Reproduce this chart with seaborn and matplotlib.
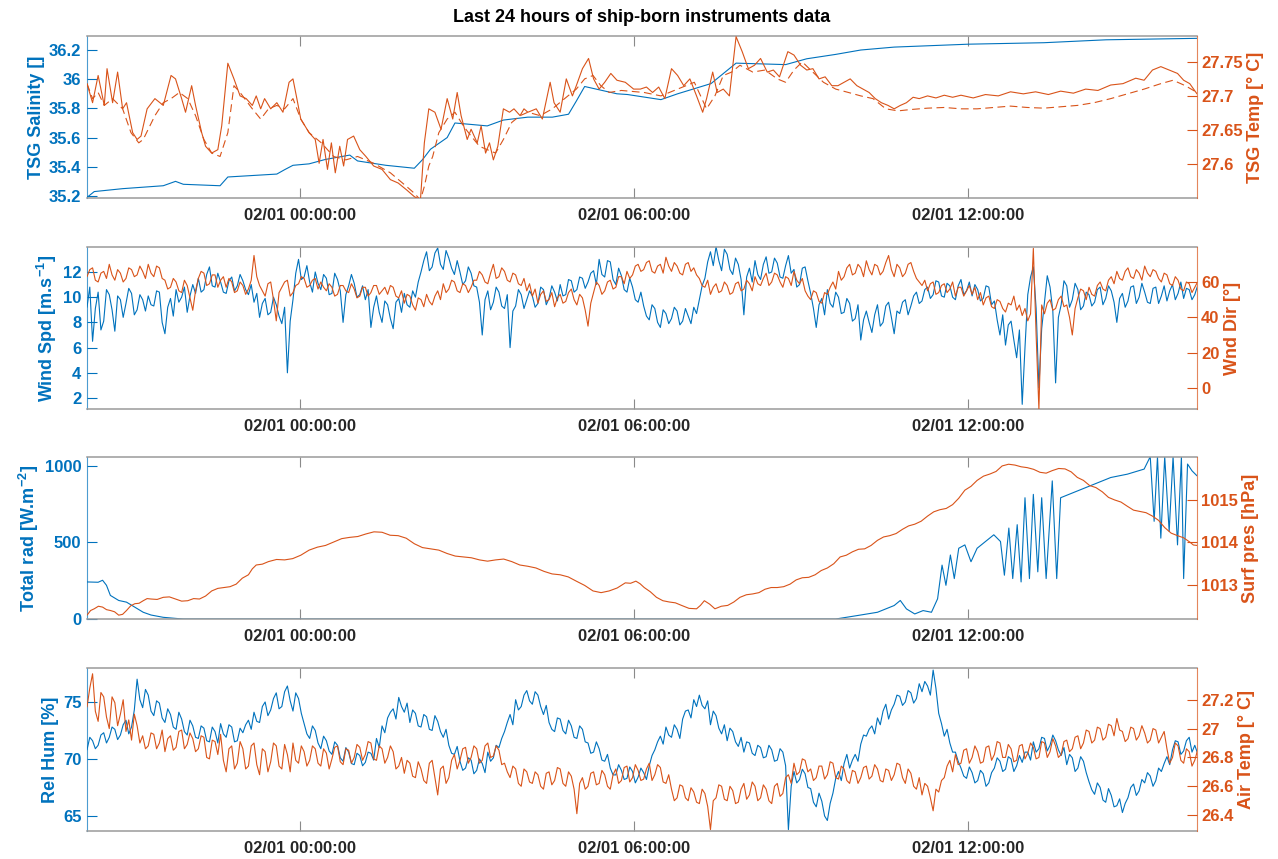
import numpy as np
import matplotlib
matplotlib.use("Agg")
import matplotlib.pyplot as plt
import seaborn as sns

sns.set_theme(style="white")
plt.rcParams["font.family"] = ["Liberation Sans", "DejaVu Sans"]
plt.rcParams["mathtext.fontset"] = "custom"
plt.rcParams["mathtext.rm"] = "Liberation Sans:bold"
plt.rcParams["mathtext.it"] = "Liberation Sans:bold"
plt.rcParams["mathtext.bf"] = "Liberation Sans:bold"
plt.rcParams["mathtext.default"] = "rm"

BLUE = "#0072BD"
ORANGE = "#D95319"

# ---------------- data (hours relative to 02/01 00:00:00) ----------------
x_range = (-3.83, 16.11)
xtick_hours = [0, 6, 12]
xtick_labels = ["02/01 00:00:00", "02/01 06:00:00", "02/01 12:00:00"]

# Panel 1 : TSG salinity (left) and TSG temperature (right, solid + dashed)
sal_hours = [-3.83, -3.70, -3.19, -2.46, -2.24, -2.10, -1.44, -1.30, -0.42, -0.28,
             -0.13, 0.16, 0.45, 0.89, 1.03, 1.54, 2.05, 2.20, 2.34, 2.64,
             2.78, 3.36, 3.65, 4.09, 4.53, 4.82, 4.96, 5.11, 5.69, 5.88,
             6.48, 6.78, 7.38, 7.83, 8.72, 9.10, 9.62, 10.07, 10.67, 12.01,
             13.36, 14.48, 16.11]
sal_values = [35.19, 35.23, 35.25, 35.27, 35.30, 35.28, 35.27, 35.33, 35.35, 35.38,
              35.41, 35.42, 35.45, 35.48, 35.44, 35.41, 35.39, 35.45, 35.52, 35.60,
              35.70, 35.68, 35.72, 35.74, 35.74, 35.76, 35.85, 35.95, 35.90, 35.895,
              35.86, 35.90, 35.97, 36.11, 36.10, 36.14, 36.17, 36.20, 36.22, 36.24,
              36.25, 36.27, 36.28]

tsg_hours = [-3.83, -3.73, -3.63, -3.52, -3.47, -3.37, -3.28, -3.19, -3.12, -3.01,
             -2.93, -2.86, -2.75, -2.61, -2.46, -2.32, -2.24, -2.13, -2.06, -1.95,
             -1.88, -1.77, -1.70, -1.59, -1.48, -1.41, -1.30, -1.19, -1.08, -0.97,
             -0.86, -0.79, -0.71, -0.64, -0.53, -0.42, -0.31, -0.20, -0.13, -0.06,
             0.01, 0.16, 0.27, 0.34, 0.41, 0.49, 0.56, 0.63, 0.71, 0.78,
             0.85, 0.96, 1.07, 1.18, 1.32, 1.47, 1.62, 1.76, 1.91, 2.05,
             2.16, 2.23, 2.31, 2.42, 2.53, 2.64, 2.74, 2.82, 2.89, 3.00,
             3.07, 3.18, 3.25, 3.33, 3.40, 3.47, 3.55, 3.65, 3.76, 3.84,
             3.95, 4.02, 4.09, 4.24, 4.35, 4.49, 4.56, 4.67, 4.78, 4.89,
             4.96, 5.07, 5.18, 5.27, 5.37, 5.47, 5.58, 5.69, 5.84, 5.99,
             6.11, 6.22, 6.33, 6.44, 6.55, 6.67, 6.78, 6.89, 7.00, 7.12,
             7.23, 7.30, 7.41, 7.49, 7.60, 7.71, 7.83, 7.94, 8.05, 8.16,
             8.27, 8.39, 8.50, 8.61, 8.76, 8.87, 8.99, 9.10, 9.21, 9.32,
             9.43, 9.55, 9.66, 9.77, 9.88, 10.00, 10.11, 10.22, 10.33, 10.44,
             10.56, 10.67, 10.78, 10.89, 11.01, 11.12, 11.27, 11.42, 11.57, 11.72,
             11.87, 12.09, 12.31, 12.54, 12.76, 12.99, 13.21, 13.44, 13.66, 13.89,
             14.11, 14.33, 14.56, 14.78, 15.01, 15.16, 15.31, 15.46, 15.61, 15.76,
             15.87, 15.98, 16.11]
tsg_values = [27.718, 27.690, 27.730, 27.686, 27.740, 27.690, 27.735, 27.681, 27.690, 27.646,
              27.636, 27.641, 27.681, 27.696, 27.686, 27.730, 27.725, 27.696, 27.676, 27.715,
              27.686, 27.646, 27.626, 27.616, 27.621, 27.656, 27.748, 27.725, 27.700, 27.696,
              27.686, 27.700, 27.681, 27.696, 27.681, 27.690, 27.676, 27.720, 27.725, 27.696,
              27.666, 27.646, 27.636, 27.601, 27.636, 27.592, 27.631, 27.587, 27.626, 27.597,
              27.636, 27.641, 27.621, 27.611, 27.597, 27.592, 27.577, 27.572, 27.562, 27.552,
              27.547, 27.631, 27.681, 27.676, 27.651, 27.696, 27.666, 27.705, 27.671, 27.636,
              27.651, 27.631, 27.656, 27.616, 27.631, 27.606, 27.626, 27.681, 27.676, 27.681,
              27.671, 27.681, 27.676, 27.681, 27.666, 27.720, 27.690, 27.676, 27.725, 27.700,
              27.715, 27.740, 27.755, 27.725, 27.710, 27.720, 27.733, 27.723, 27.720, 27.710,
              27.710, 27.713, 27.705, 27.713, 27.696, 27.740, 27.730, 27.715, 27.725, 27.700,
              27.676, 27.696, 27.735, 27.705, 27.710, 27.700, 27.787, 27.765, 27.740, 27.745,
              27.755, 27.735, 27.738, 27.728, 27.765, 27.760, 27.745, 27.738, 27.740, 27.725,
              27.728, 27.715, 27.715, 27.720, 27.725, 27.715, 27.710, 27.705, 27.696, 27.690,
              27.686, 27.681, 27.686, 27.690, 27.698, 27.696, 27.700, 27.697, 27.701, 27.698,
              27.701, 27.697, 27.702, 27.700, 27.706, 27.703, 27.706, 27.702, 27.707, 27.704,
              27.710, 27.708, 27.716, 27.718, 27.726, 27.723, 27.738, 27.743, 27.738, 27.733,
              27.723, 27.718, 27.703]

tsg2_hours = [-3.83, -3.73, -3.63, -3.52, -3.37, -3.19, -3.04, -2.90, -2.82, -2.61,
              -2.46, -2.32, -2.17, -2.02, -1.88, -1.73, -1.59, -1.44, -1.30, -1.19,
              -1.08, -0.86, -0.71, -0.57, -0.42, -0.28, -0.13, 0.01, 0.16, 0.38,
              0.60, 0.82, 1.03, 1.32, 1.62, 1.91, 2.05, 2.16, 2.23, 2.31,
              2.38, 2.49, 2.64, 2.78, 2.93, 3.07, 3.22, 3.36, 3.51, 3.65,
              3.80, 3.95, 4.09, 4.31, 4.53, 4.75, 4.96, 5.11, 5.26, 5.40,
              5.55, 5.77, 6.18, 6.48, 6.78, 7.08, 7.30, 7.45, 7.60, 7.75,
              7.90, 8.13, 8.35, 8.57, 8.72, 8.87, 9.02, 9.17, 9.40, 9.62,
              9.85, 10.07, 10.29, 10.52, 10.74, 10.97, 11.27, 11.57, 11.87, 12.16,
              12.46, 12.76, 13.06, 13.36, 13.66, 13.96, 14.26, 14.56, 14.86, 15.16,
              15.46, 15.68, 15.90, 16.11]
tsg2_values = [27.718, 27.696, 27.705, 27.686, 27.696, 27.681, 27.646, 27.631, 27.636, 27.671,
               27.690, 27.696, 27.705, 27.696, 27.671, 27.636, 27.616, 27.611, 27.646, 27.715,
               27.705, 27.681, 27.666, 27.681, 27.686, 27.681, 27.696, 27.666, 27.646, 27.631,
               27.611, 27.606, 27.611, 27.601, 27.587, 27.567, 27.557, 27.547, 27.567, 27.597,
               27.611, 27.646, 27.666, 27.676, 27.656, 27.641, 27.626, 27.621, 27.616, 27.636,
               27.661, 27.671, 27.676, 27.671, 27.681, 27.696, 27.710, 27.725, 27.730, 27.715,
               27.705, 27.708, 27.705, 27.700, 27.710, 27.720, 27.681, 27.700, 27.730, 27.735,
               27.745, 27.735, 27.738, 27.725, 27.720, 27.738, 27.750, 27.738, 27.720, 27.710,
               27.705, 27.700, 27.696, 27.681, 27.678, 27.680, 27.682, 27.683, 27.681, 27.681,
               27.683, 27.685, 27.683, 27.682, 27.684, 27.686, 27.690, 27.696, 27.703, 27.710,
               27.718, 27.723, 27.715, 27.705]

# Noisy meteorological series: samples every 6 min ("main") plus the samples
# read in between them ("mid"), starting at grid_start hours.
grid_start = -3.83
grid_step = 0.1

wind_spd_main = [9.2, 6.5, 10.4, 8.1, 10.2, 7.3, 9.8, 9.5, 10.3, 9.0,
                 9.8, 10.1, 9.3, 10.4, 7.1, 9.9, 10.6, 10.0, 8.8, 11.0,
                 11.5, 10.6, 12.4, 10.8, 11.2, 10.3, 11.6, 10.9, 11.3, 10.2,
                 9.6, 8.4, 9.9, 8.8, 9.4, 7.9, 4.0, 9.8, 13.0, 11.6,
                 11.2, 12.0, 10.6, 11.5, 10.3, 11.4, 8.0, 10.9, 11.1, 10.2,
                 9.8, 7.6, 10.1, 8.0, 9.4, 7.5, 9.9, 10.3, 9.2, 10.0,
                 12.0, 13.6, 12.4, 13.9, 12.2, 13.1, 11.8, 12.0, 11.3, 11.9,
                 10.8, 7.0, 10.5, 9.6, 10.4, 9.1, 6.0, 9.3, 10.2, 9.8,
                 10.1, 9.5, 10.6, 9.9, 10.4, 11.0, 10.2, 11.3, 10.6, 11.5,
                 11.2, 12.1, 13.0, 11.6, 12.8, 11.0, 11.7, 10.4, 10.8, 9.6,
                 9.3, 8.2, 9.1, 7.6, 8.7, 8.3, 8.9, 8.1, 8.5, 9.2,
                 9.8, 11.5, 13.6, 14.0, 12.1, 13.4, 11.8, 12.6, 8.6, 12.3,
                 12.9, 11.4, 13.2, 12.0, 12.7, 11.5, 13.3, 12.2, 11.0, 12.4,
                 10.3, 7.6, 9.9, 10.6, 9.2, 10.0, 8.8, 9.5, 8.3, 6.6,
                 8.9, 7.2, 9.4, 8.0, 9.6, 7.1, 8.7, 9.8, 9.3, 10.4,
                 9.7, 10.8, 10.2, 11.2, 10.0, 10.9, 9.8, 11.4, 10.5, 10.1,
                 10.6, 9.9, 10.8, 9.7, 7.0, 6.2, 8.1, 5.2, 1.5, 10.2,
                 12.4, 2.8, 9.6, 10.8, 3.2, 9.4, 10.9, 9.8, 10.6, 9.3,
                 10.2, 9.6, 10.8, 9.9, 10.5, 8.0, 10.3, 9.7, 10.9, 10.0,
                 10.4, 9.5, 10.8, 10.1, 9.7, 11.0, 10.3, 9.9, 10.6, 10.2]
wind_spd_mid = [10.8, 9.1, 7.4, 10.6, 9.0, 10.1, 8.4, 10.7, 8.6, 10.2,
                8.9, 9.4, 10.5, 8.0, 9.2, 8.5, 9.6, 10.8, 10.1, 10.3,
                10.4, 11.8, 10.9, 11.9, 10.4, 11.3, 10.5, 11.8, 10.6, 11.0,
                10.3, 9.5, 8.6, 10.0, 8.5, 9.2, 8.1, 11.9, 11.4, 12.5,
                10.4, 11.1, 11.8, 10.2, 11.9, 10.5, 10.2, 11.8, 10.0, 10.9,
                10.6, 9.2, 8.8, 9.7, 8.3, 9.6, 8.8, 9.4, 10.5, 11.2,
                12.9, 12.1, 13.5, 12.6, 13.7, 12.3, 12.9, 11.0, 12.4, 10.9,
                9.6, 9.8, 9.0, 10.8, 9.3, 10.2, 8.9, 10.6, 9.1, 10.5,
                9.2, 10.8, 9.4, 10.9, 9.7, 10.1, 11.4, 10.4, 11.6, 10.7,
                11.9, 11.0, 11.8, 12.9, 11.4, 12.3, 10.6, 11.5, 9.8, 10.4,
                8.5, 9.4, 8.0, 9.0, 7.9, 9.2, 7.8, 9.1, 7.9, 8.7,
                10.9, 12.8, 12.5, 12.9, 13.8, 12.2, 13.1, 11.4, 11.6, 11.2,
                11.8, 12.6, 11.9, 13.1, 11.6, 12.5, 11.9, 10.8, 12.3, 11.3,
                9.1, 9.4, 8.6, 9.5, 10.4, 8.7, 9.9, 8.1, 9.4, 8.2,
                8.0, 8.6, 7.7, 9.3, 8.4, 8.9, 9.6, 8.6, 10.1, 9.5,
                10.6, 9.9, 11.3, 10.1, 11.1, 10.0, 10.9, 10.2, 11.2, 11.0,
                9.7, 10.9, 9.4, 8.2, 8.6, 7.8, 6.6, 7.4, 6.0, 11.6,
                9.1, 7.5, 11.7, 8.9, 8.4, 11.3, 9.2, 11.1, 9.0, 10.4,
                9.3, 10.6, 9.4, 10.9, 9.6, 9.9, 9.2, 10.8, 9.5, 11.1,
                9.6, 10.7, 9.5, 10.9, 10.5, 9.8, 11.2, 10.7, 9.8, 10.9]

wind_dir_main = [63, 68, 60, 66, 70, 61, 65, 62, 67, 64,
                 66, 70, 63, 68, 61, 57, 60, 54, 58, 44,
                 62, 65, 59, 64, 61, 57, 60, 55, 58, 56,
                 75, 58, 52, 60, 38, 57, 61, 54, 59, 62,
                 58, 62, 60, 55, 57, 53, 58, 54, 56, 52,
                 57, 54, 58, 55, 53, 57, 51, 48, 52, 44,
                 50, 53, 47, 55, 59, 56, 60, 54, 58, 57,
                 61, 64, 59, 70, 63, 66, 60, 64, 58, 55,
                 52, 48, 55, 50, 46, 53, 49, 56, 47, 51,
                 35, 54, 58, 55, 61, 57, 63, 66, 64, 70,
                 67, 72, 65, 70, 74, 66, 69, 64, 71, 68,
                 62, 57, 53, 59, 55, 58, 54, 60, 56, 59,
                 63, 58, 65, 60, 64, 57, 62, 66, 59, 55,
                 50, 54, 48, 53, 60, 66, 63, 70, 65, 68,
                 72, 64, 69, 66, 75, 63, 68, 65, 71, 62,
                 58, 55, 60, 54, 59, 56, 52, 57, 55, 53,
                 50, 47, 52, 45, 49, 43, 47, 44, 41, 38,
                 79, -12, 42, 50, 45, 52, 47, 30, 51, 55,
                 57, 52, 60, 55, 63, 66, 61, 68, 62, 65,
                 69, 63, 66, 60, 64, 58, 61, 55, 59, 57]
wind_dir_mid = [67, 61, 65, 62, 64, 67, 60, 68, 63, 69,
                62, 65, 69, 62, 56, 62, 55, 61, 51, 55,
                66, 58, 64, 57, 63, 62, 54, 60, 53, 61,
                63, 55, 59, 50, 54, 60, 52, 58, 63, 57,
                61, 56, 57, 59, 52, 58, 55, 59, 51, 57,
                52, 58, 53, 57, 58, 52, 55, 53, 47, 51,
                46, 49, 52, 50, 54, 61, 55, 59, 54, 61,
                66, 60, 65, 62, 68, 61, 65, 59, 62, 59,
                56, 53, 49, 54, 51, 48, 54, 50, 53, 44,
                48, 60, 53, 60, 56, 63, 59, 62, 69, 66,
                71, 66, 69, 65, 69, 71, 65, 70, 66, 64,
                58, 61, 57, 54, 60, 53, 59, 55, 61, 55,
                59, 62, 58, 65, 60, 63, 58, 61, 62, 52,
                55, 49, 54, 57, 56, 61, 68, 64, 70, 63,
                67, 70, 64, 71, 67, 70, 63, 70, 66, 60,
                61, 59, 53, 58, 54, 60, 57, 52, 58, 57,
                54, 51, 46, 50, 45, 48, 52, 47, 45, 42,
                30, 47, 48, 44, 50, 46, 40, 45, 56, 50,
                53, 58, 56, 61, 59, 62, 66, 63, 67, 61,
                65, 67, 62, 65, 59, 63, 56, 60, 54, 60]

# Panel 3 : total radiation (left) and surface pressure (right)
rad_hours = [-3.83, -3.63, -3.55, -3.48, -3.41, -3.26, -3.12, -2.97, -2.82, -2.68,
             -2.46, -2.24, -2.10, 9.62, 10.00, 10.37, 10.67, 10.78, 10.89, 11.04,
             11.19, 11.34, 11.45, 11.53, 11.60, 11.68, 11.75, 11.83, 11.94, 12.05,
             12.16, 12.31, 12.46, 12.58, 12.65, 12.73, 12.80, 12.88, 12.95, 13.02,
             13.10, 13.17, 13.25, 13.32, 13.40, 13.51, 13.59, 13.66, 13.96, 14.26,
             14.56, 14.86, 15.16, 15.27, 15.34, 15.40, 15.46, 15.53, 15.61, 15.68,
             15.76, 15.83, 15.87, 15.94, 16.02, 16.11]
rad_values = [242, 240, 253, 220, 154, 121, 110, 77, 44, 26,
              11, 4, 0, 0, 22, 44, 88, 121, 66, 33,
              55, 44, 132, 352, 220, 418, 264, 462, 484, 374,
              462, 506, 550, 506, 286, 594, 264, 616, 242, 792,
              264, 814, 308, 792, 264, 902, 264, 792, 836, 880,
              924, 946, 979, 1060, 638, 1060, 528, 1060, 572, 1060,
              484, 1060, 264, 1012, 968, 935]

pres_hours = [-3.83, -3.70, -3.55, -3.41, -3.26, -3.12, -2.97, -2.82, -2.68, -2.46,
              -2.24, -2.02, -1.81, -1.59, -1.37, -1.15, -0.93, -0.79, -0.57, -0.28,
              0.01, 0.31, 0.60, 0.89, 1.18, 1.47, 1.76, 2.05, 2.34, 2.64,
              2.93, 3.22, 3.51, 3.80, 4.09, 4.38, 4.67, 4.96, 5.26, 5.55,
              5.84, 6.03, 6.18, 6.40, 6.63, 6.85, 7.12, 7.26, 7.45, 7.68,
              7.90, 8.13, 8.35, 8.57, 8.80, 9.02, 9.25, 9.47, 9.70, 9.92,
              10.14, 10.37, 10.59, 10.82, 11.04, 11.27, 11.49, 11.72, 11.94, 12.16,
              12.39, 12.61, 12.84, 13.06, 13.29, 13.51, 13.74, 13.96, 14.18, 14.41,
              14.63, 14.86, 15.08, 15.31, 15.53, 15.76, 15.98, 16.11]
pres_values = [1012.29, 1012.44, 1012.48, 1012.40, 1012.29, 1012.40, 1012.56, 1012.63, 1012.67, 1012.71,
               1012.67, 1012.63, 1012.67, 1012.86, 1012.94, 1013.02, 1013.24, 1013.47, 1013.55, 1013.59,
               1013.70, 1013.89, 1014.01, 1014.12, 1014.20, 1014.24, 1014.16, 1013.97, 1013.85, 1013.74,
               1013.66, 1013.59, 1013.59, 1013.55, 1013.44, 1013.32, 1013.24, 1013.09, 1012.86, 1012.86,
               1013.05, 1013.09, 1012.94, 1012.71, 1012.60, 1012.52, 1012.44, 1012.63, 1012.44, 1012.52,
               1012.71, 1012.79, 1012.90, 1012.94, 1013.02, 1013.17, 1013.24, 1013.40, 1013.66, 1013.78,
               1013.85, 1014.05, 1014.16, 1014.31, 1014.43, 1014.62, 1014.77, 1014.89, 1015.23, 1015.46,
               1015.61, 1015.80, 1015.82, 1015.76, 1015.65, 1015.69, 1015.73, 1015.53, 1015.34, 1015.19,
               1015.00, 1014.85, 1014.73, 1014.62, 1014.35, 1014.16, 1014.01, 1013.93]
# readings taken half-way between the pressure samples above (small jitter)
pres_mid = [1012.40, 1012.50, 1012.42, 1012.37, 1012.31, 1012.51, 1012.57, 1012.68, 1012.66, 1012.72,
            1012.62, 1012.68, 1012.74, 1012.92, 1012.96, 1013.16, 1013.38, 1013.49, 1013.60, 1013.62,
            1013.82, 1013.93, 1014.09, 1014.14, 1014.25, 1014.17, 1014.10, 1013.88, 1013.82, 1013.68,
            1013.64, 1013.56, 1013.61, 1013.47, 1013.40, 1013.26, 1013.19, 1012.99, 1012.82, 1012.93,
            1013.04, 1013.03, 1012.84, 1012.63, 1012.58, 1012.45, 1012.52, 1012.55, 1012.50, 1012.60,
            1012.77, 1012.82, 1012.94, 1012.96, 1013.12, 1013.18, 1013.34, 1013.50, 1013.70, 1013.84,
            1013.93, 1014.13, 1014.21, 1014.39, 1014.50, 1014.72, 1014.80, 1015.04, 1015.32, 1015.56,
            1015.67, 1015.84, 1015.78, 1015.72, 1015.63, 1015.74, 1015.66, 1015.46, 1015.29, 1015.06,
            1014.95, 1014.76, 1014.70, 1014.52, 1014.22, 1014.11, 1013.94]

# Panel 4 : relative humidity (left) and air temperature (right)
rel_hum_main = [70.8, 71.6, 71.2, 72.3, 71.9, 72.6, 72.1, 73.4, 72.8, 77.0,
                74.5, 75.6, 73.8, 74.9, 73.2, 73.9, 72.6, 73.5, 72.1, 72.9,
                71.8, 72.7, 71.5, 72.4, 73.1, 71.9, 72.8, 71.6, 72.3, 73.4,
                74.1, 73.2, 75.0, 74.3, 75.8, 74.6, 76.4, 74.2, 75.3, 73.1,
                71.8, 72.5, 70.9, 71.6, 70.4, 71.2, 69.8, 70.6, 69.5, 70.3,
                69.7, 70.5, 71.8, 72.9, 73.6, 74.4, 75.4, 74.1, 73.2, 74.0,
                72.8, 73.7, 72.5, 73.3, 71.9, 71.2, 70.4, 69.8, 69.2, 69.9,
                69.0, 69.6, 70.6, 70.1, 71.0, 72.4, 73.9, 75.2, 74.6, 76.0,
                74.8, 75.6, 73.9, 73.2, 72.4, 73.5, 72.2, 72.9, 71.8, 72.6,
                71.4, 70.6, 70.9, 69.8, 69.2, 68.6, 69.0, 68.3, 68.9, 68.4,
                68.8, 69.4, 70.8, 72.0, 72.8, 71.9, 72.6, 73.5, 74.3, 75.2,
                75.6, 74.4, 73.0, 73.8, 72.2, 71.6, 72.4, 71.1, 70.6, 71.4,
                70.3, 71.0, 70.2, 70.8, 69.9, 70.6, 63.8, 68.9, 68.2, 68.7,
                67.4, 65.8, 66.3, 64.6, 67.0, 68.9, 69.6, 69.2, 70.4, 71.3,
                72.0, 72.9, 73.6, 74.2, 73.5, 74.8, 75.5, 75.0, 75.8, 75.3,
                75.9, 76.4, 77.8, 74.0, 72.0, 71.4, 70.6, 69.2, 68.3, 68.8,
                68.1, 68.7, 67.9, 69.2, 69.8, 69.1, 70.0, 69.4, 69.7, 70.6,
                71.5, 70.9, 71.8, 71.2, 71.6, 70.3, 69.5, 70.1, 69.2, 69.8,
                68.0, 66.9, 67.5, 66.2, 66.8, 65.9, 65.3, 66.6, 67.8, 67.2,
                67.9, 68.5, 68.1, 68.9, 70.2, 70.8, 71.5, 70.7, 71.9, 71.2]
rel_hum_mid = [71.9, 70.9, 72.1, 71.4, 72.8, 71.7, 73.0, 72.2, 74.3, 75.2,
               76.1, 74.2, 75.1, 73.6, 74.4, 72.8, 74.1, 72.4, 73.4, 71.9,
               72.9, 71.6, 72.8, 71.4, 72.2, 73.0, 71.5, 72.7, 73.0, 72.6,
               73.3, 74.6, 73.8, 75.3, 74.4, 75.9, 75.1, 75.8, 74.0, 72.2,
               72.9, 71.4, 72.0, 70.7, 71.5, 70.1, 71.0, 69.6, 70.5, 69.4,
               70.6, 69.9, 71.0, 72.3, 74.1, 73.5, 74.6, 74.9, 74.3, 72.9,
               73.9, 72.6, 73.8, 72.4, 72.6, 70.5, 71.1, 69.0, 70.1, 68.7,
               70.0, 68.8, 69.8, 71.2, 71.8, 73.2, 73.0, 74.3, 75.6, 75.1,
               75.9, 74.6, 74.7, 72.6, 73.6, 72.5, 73.4, 71.9, 72.9, 71.5,
               70.5, 71.5, 69.9, 70.4, 68.6, 69.5, 68.2, 69.3, 67.9, 69.2,
               68.2, 70.3, 71.5, 71.3, 72.1, 73.0, 71.8, 74.2, 73.6, 74.6,
               74.7, 75.1, 74.2, 72.7, 73.0, 72.7, 71.5, 71.9, 71.5, 70.5,
               71.2, 70.1, 71.2, 69.8, 70.9, 69.4, 67.6, 67.9, 69.1, 67.5,
               66.2, 67.0, 65.0, 66.1, 68.3, 68.1, 70.4, 69.9, 69.8, 72.1,
               72.6, 72.2, 73.0, 74.8, 74.3, 75.6, 74.7, 76.0, 74.9, 76.6,
               76.8, 75.6, 76.2, 73.1, 72.6, 70.6, 69.8, 68.5, 69.3, 67.9,
               69.0, 67.6, 68.8, 70.1, 68.9, 70.2, 68.9, 70.3, 70.6, 69.9,
               70.6, 71.9, 70.7, 72.1, 70.8, 71.0, 70.4, 68.9, 70.2, 68.8,
               67.3, 67.9, 66.4, 67.4, 65.8, 66.5, 66.1, 67.5, 66.8, 68.2,
               68.8, 67.6, 69.2, 69.6, 69.5, 71.6, 70.4, 71.6, 70.6, 70.5]

air_temp_main = [27.15, 27.38, 27.05, 27.22, 27.00, 27.18, 27.10, 26.98, 26.92, 27.02,
                 26.95, 26.88, 26.96, 26.90, 26.84, 26.95, 26.87, 26.99, 26.89, 26.93,
                 26.86, 26.94, 26.79, 26.91, 26.96, 26.70, 26.88, 26.76, 26.86, 26.74,
                 26.90, 26.68, 26.84, 26.77, 26.88, 26.72, 26.82, 26.90, 26.76, 26.84,
                 26.78, 26.86, 26.74, 26.83, 26.79, 26.88, 26.75, 26.85, 26.80, 26.87,
                 26.82, 26.90, 26.78, 26.86, 26.80, 26.84, 26.74, 26.69, 26.76, 26.66,
                 26.72, 26.62, 26.78, 26.54, 26.74, 26.66, 26.82, 26.78, 26.87, 26.80,
                 26.86, 26.78, 26.90, 26.81, 26.85, 26.76, 26.66, 26.72, 26.60, 26.70,
                 26.62, 26.68, 26.58, 26.70, 26.64, 26.72, 26.60, 26.67, 26.41, 26.66,
                 26.60, 26.70, 26.62, 26.68, 26.58, 26.72, 26.64, 26.74, 26.66, 26.71,
                 26.65, 26.76, 26.68, 26.73, 26.62, 26.58, 26.52, 26.60, 26.50, 26.56,
                 26.48, 26.55, 26.30, 26.52, 26.60, 26.50, 26.57, 26.49, 26.62, 26.54,
                 26.60, 26.52, 26.58, 26.48, 26.62, 26.55, 26.68, 26.76, 26.70, 26.78,
                 26.72, 26.66, 26.74, 26.68, 26.76, 26.65, 26.72, 26.62, 26.70, 26.66,
                 26.74, 26.67, 26.72, 26.63, 26.71, 26.68, 26.75, 26.62, 26.69, 26.58,
                 26.54, 26.60, 26.43, 26.56, 26.66, 26.78, 26.82, 26.76, 26.86, 26.80,
                 26.84, 26.77, 26.88, 26.82, 26.90, 26.80, 26.86, 26.78, 26.89, 26.83,
                 26.87, 26.80, 26.90, 26.84, 26.88, 26.82, 26.92, 26.86, 26.95, 26.90,
                 26.98, 26.92, 27.00, 26.94, 27.02, 27.07, 26.98, 26.93, 27.00, 26.95,
                 26.97, 26.92, 26.99, 26.94, 26.86, 26.80, 26.88, 26.76, 26.84, 26.78]
air_temp_mid = [27.28, 27.12, 27.25, 27.08, 27.22, 27.02, 27.20, 27.06, 27.10, 26.90,
                26.86, 26.97, 26.86, 26.99, 26.93, 26.85, 26.98, 26.86, 26.97, 26.84,
                26.95, 26.80, 26.92, 26.82, 26.78, 26.86, 26.72, 26.91, 26.72, 26.88,
                26.75, 26.86, 26.70, 26.90, 26.74, 26.89, 26.70, 26.78, 26.88, 26.74,
                26.88, 26.76, 26.86, 26.72, 26.87, 26.77, 26.86, 26.76, 26.89, 26.78,
                26.91, 26.79, 26.88, 26.76, 26.88, 26.72, 26.80, 26.78, 26.67, 26.77,
                26.64, 26.76, 26.66, 26.72, 26.62, 26.78, 26.72, 26.86, 26.76, 26.88,
                26.76, 26.88, 26.80, 26.88, 26.75, 26.70, 26.74, 26.62, 26.72, 26.63,
                26.70, 26.60, 26.69, 26.61, 26.73, 26.62, 26.70, 26.58, 26.62, 26.58,
                26.69, 26.61, 26.71, 26.60, 26.68, 26.62, 26.73, 26.63, 26.75, 26.64,
                26.72, 26.64, 26.75, 26.63, 26.68, 26.50, 26.61, 26.52, 26.59, 26.49,
                26.58, 26.46, 26.50, 26.61, 26.51, 26.60, 26.48, 26.58, 26.51, 26.63,
                26.50, 26.61, 26.50, 26.60, 26.53, 26.66, 26.62, 26.68, 26.79, 26.70,
                26.64, 26.74, 26.65, 26.77, 26.66, 26.74, 26.64, 26.71, 26.62, 26.73,
                26.65, 26.75, 26.64, 26.72, 26.64, 26.76, 26.66, 26.72, 26.60, 26.66,
                26.62, 26.52, 26.58, 26.64, 26.74, 26.70, 26.75, 26.85, 26.76, 26.88,
                26.76, 26.87, 26.78, 26.91, 26.80, 26.89, 26.77, 26.88, 26.79, 26.90,
                26.79, 26.91, 26.80, 26.93, 26.80, 26.91, 26.84, 26.94, 26.86, 26.99,
                26.90, 27.01, 26.92, 27.03, 26.95, 26.99, 26.91, 27.01, 26.92, 27.02,
                26.90, 27.00, 26.90, 26.98, 26.76, 26.90, 26.78, 26.86, 26.74, 26.85]

# axis settings per panel
panels = [
    dict(left_label="TSG Salinity []", right_label="TSG Temp [° C]",
         left_lim=(35.186, 36.296), right_lim=(27.55, 27.788),
         left_ticks=[35.2, 35.4, 35.6, 35.8, 36.0, 36.2],
         left_ticklabels=["35.2", "35.4", "35.6", "35.8", "36", "36.2"],
         right_ticks=[27.6, 27.65, 27.7, 27.75],
         right_ticklabels=["27.6", "27.65", "27.7", "27.75"]),
    dict(left_label="Wind Spd [m.s$^{-1}$]", right_label="Wnd Dir [°]",
         left_lim=(1.13, 13.98), right_lim=(-11.9, 79.8),
         left_ticks=[2, 4, 6, 8, 10, 12],
         left_ticklabels=["2", "4", "6", "8", "10", "12"],
         right_ticks=[0, 20, 40, 60],
         right_ticklabels=["0", "20", "40", "60"]),
    dict(left_label="Total rad [W.m$^{-2}$]", right_label="Surf pres [hPa]",
         left_lim=(0, 1058), right_lim=(1012.2, 1016.01),
         left_ticks=[0, 500, 1000],
         left_ticklabels=["0", "500", "1000"],
         right_ticks=[1013, 1014, 1015],
         right_ticklabels=["1013", "1014", "1015"]),
    dict(left_label="Rel Hum [%]", right_label="Air Temp [° C]",
         left_lim=(63.68, 77.98), right_lim=(26.29, 27.42),
         left_ticks=[65, 70, 75],
         left_ticklabels=["65", "70", "75"],
         right_ticks=[26.4, 26.6, 26.8, 27.0, 27.2],
         right_ticklabels=["26.4", "26.6", "26.8", "27", "27.2"]),
]


def merged(main, mid):
    vals = np.column_stack([main, mid]).ravel()
    hrs = grid_start + (grid_step / 2.0) * np.arange(len(vals))
    return hrs, vals


def with_midpoints(hours, vals, mids):
    hours = np.asarray(hours, dtype=float)
    mid_hours = (hours[:-1] + hours[1:]) / 2.0
    all_h = np.empty(len(hours) + len(mid_hours))
    all_v = np.empty_like(all_h)
    all_h[0::2], all_h[1::2] = hours, mid_hours
    all_v[0::2], all_v[1::2] = vals, mids
    return all_h, all_v


# ---------------- figure ----------------
fig = plt.figure(figsize=(12.78, 8.59), dpi=100)
fig.patch.set_facecolor("white")

W, H = 1278.0, 859.0
ax_left, ax_right_px = 87, 1197
rows_px = [(36, 198), (247, 409), (457, 619), (668, 831)]

LW = 0.8
axes = []
for k, (top, bot) in enumerate(rows_px):
    pos = [ax_left / W, 1 - bot / H, (ax_right_px - ax_left) / W, (bot - top) / H]
    ax = fig.add_axes(pos)
    axr = ax.twinx()
    axes.append((ax, axr))

# Panel 1
ax, axr = axes[0]
sns.lineplot(x=sal_hours, y=sal_values, ax=ax, color=BLUE, linewidth=LW, estimator=None)
sns.lineplot(x=tsg2_hours, y=tsg2_values, ax=axr, color=ORANGE, linewidth=LW,
             estimator=None, linestyle=(0, (7, 4)))
sns.lineplot(x=tsg_hours, y=tsg_values, ax=axr, color=ORANGE, linewidth=LW, estimator=None)

# Panel 2
ax, axr = axes[1]
h, v = merged(wind_spd_main, wind_spd_mid)
sns.lineplot(x=h, y=v, ax=ax, color=BLUE, linewidth=LW, estimator=None)
h, v = merged(wind_dir_main, wind_dir_mid)
sns.lineplot(x=h, y=v, ax=axr, color=ORANGE, linewidth=LW, estimator=None)

# Panel 3
ax, axr = axes[2]
sns.lineplot(x=rad_hours, y=rad_values, ax=ax, color=BLUE, linewidth=LW, estimator=None)
h, v = with_midpoints(pres_hours, pres_values, pres_mid)
sns.lineplot(x=h, y=v, ax=axr, color=ORANGE, linewidth=LW, estimator=None)

# Panel 4
ax, axr = axes[3]
h, v = merged(rel_hum_main, rel_hum_mid)
sns.lineplot(x=h, y=v, ax=ax, color=BLUE, linewidth=LW, estimator=None)
h, v = merged(air_temp_main, air_temp_mid)
sns.lineplot(x=h, y=v, ax=axr, color=ORANGE, linewidth=LW, estimator=None)

TICK_FS = 12
LABEL_FS = 13
for (ax, axr), p in zip(axes, panels):
    ax.set_xlim(*x_range)
    ax.set_ylim(*p["left_lim"])
    axr.set_ylim(*p["right_lim"])
    ax.set_xticks(xtick_hours, xtick_labels, fontweight="bold")
    ax.set_yticks(p["left_ticks"], p["left_ticklabels"], fontweight="bold")
    axr.set_yticks(p["right_ticks"], p["right_ticklabels"], fontweight="bold")
    ax.grid(False)
    axr.grid(False)
    ax.tick_params(axis="x", direction="in", top=True, bottom=True, length=7, width=0.8,
                   color="#8a8a8a", labelsize=TICK_FS, labelcolor="#262626", pad=7)
    ax.tick_params(axis="y", direction="in", left=True, length=7, width=0.8,
                   color=BLUE, labelcolor=BLUE, labelsize=TICK_FS, pad=4)
    axr.tick_params(axis="y", direction="in", right=True, length=7, width=0.8,
                    color=ORANGE, labelcolor=ORANGE, labelsize=TICK_FS, pad=3)
    for s in ["top", "bottom"]:
        ax.spines[s].set_color("#9a9a9a")
        ax.spines[s].set_linewidth(1.1)
        axr.spines[s].set_visible(False)
    ax.spines["left"].set_color(BLUE)
    ax.spines["left"].set_linewidth(0.8)
    ax.spines["left"].set_alpha(0.7)
    ax.spines["right"].set_visible(False)
    axr.spines["left"].set_visible(False)
    axr.spines["right"].set_color(ORANGE)
    axr.spines["right"].set_linewidth(0.8)
    axr.spines["right"].set_alpha(0.7)
    ax.set_xlabel("")
    ax.set_ylabel(p["left_label"], color=BLUE, fontsize=LABEL_FS, fontweight="bold",
                  labelpad=3)
    axr.set_ylabel(p["right_label"], color=ORANGE, fontsize=LABEL_FS, fontweight="bold",
                   labelpad=3)
    ax.set_facecolor("white")

fig.text(0.5023, 1 - 18 / H, "Last 24 hours of ship-born instruments data",
         ha="center", va="center", fontsize=13, fontweight="bold", color="black")

fig.savefig("out.png", dpi=100)
